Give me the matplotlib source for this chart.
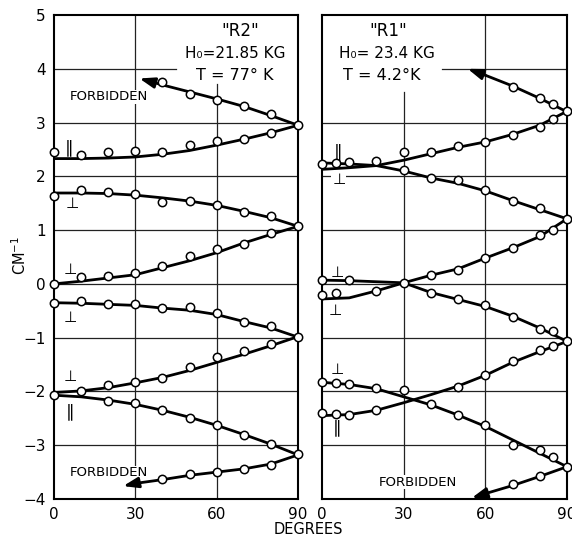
import matplotlib.pyplot as plt

# ---- "R2" panel (left) ----
deg10 = [0, 10, 20, 30, 40, 50, 60, 70, 80, 90]

# fitted curves
r2_fb_up_deg = [90, 80, 70, 60, 50, 40, 31.5]
r2_fb_up = [2.95, 3.13, 3.30, 3.44, 3.57, 3.70, 3.82]
r2_par_up = [2.33, 2.33, 2.34, 2.36, 2.41, 2.48, 2.58, 2.69, 2.81, 2.95]
r2_perp1 = [1.69, 1.69, 1.68, 1.65, 1.60, 1.54, 1.46, 1.35, 1.23, 1.07]
r2_perp2 = [0.0, 0.05, 0.11, 0.17, 0.30, 0.43, 0.58, 0.76, 0.92, 1.07]
r2_perp3 = [-0.35, -0.36, -0.38, -0.40, -0.45, -0.49, -0.57, -0.70, -0.82, -0.99]
r2_perp4 = [-2.02, -1.99, -1.93, -1.84, -1.74, -1.61, -1.46, -1.31, -1.15, -0.98]
r2_par_low = [-2.07, -2.10, -2.16, -2.24, -2.35, -2.48, -2.63, -2.80, -2.98, -3.18]
r2_fb_low_deg = [90, 80, 70, 60, 50, 40, 30, 25.5]
r2_fb_low = [-3.18, -3.35, -3.44, -3.50, -3.56, -3.64, -3.71, -3.76]

# measured points
r2_pts_fb_up_deg = [40, 50, 60, 70, 80]
r2_pts_fb_up = [3.75, 3.54, 3.42, 3.30, 3.15]
r2_pts_par_up = [2.46, 2.40, 2.45, 2.48, 2.45, 2.58, 2.65, 2.70, 2.81, 2.96]
r2_pts_perp1 = [1.64, 1.75, 1.70, 1.67, 1.52, 1.55, 1.47, 1.33, 1.26, 1.07]
r2_pts_perp2_deg = [0, 10, 20, 30, 40, 50, 60, 70, 80]
r2_pts_perp2 = [0.0, 0.12, 0.14, 0.20, 0.33, 0.51, 0.64, 0.75, 0.95]
r2_pts_perp3 = [-0.35, -0.32, -0.37, -0.38, -0.45, -0.43, -0.54, -0.71, -0.79, -0.99]
r2_pts_perp4_deg = [0, 10, 20, 30, 40, 50, 60, 70, 80]
r2_pts_perp4 = [-2.06, -2.00, -1.88, -1.82, -1.75, -1.54, -1.36, -1.24, -1.12]
r2_pts_par_low_deg = [20, 30, 40, 50, 60, 70, 80, 90]
r2_pts_par_low = [-2.18, -2.22, -2.35, -2.49, -2.63, -2.81, -2.97, -3.17]
r2_pts_fb_low_deg = [40, 50, 60, 70, 80]
r2_pts_fb_low = [-3.62, -3.53, -3.49, -3.45, -3.37]

# ---- "R1" panel (right) ----
r1_fb_up_deg = [90, 80, 70, 60, 53.5]
r1_fb_up = [3.20, 3.45, 3.68, 3.88, 4.00]
r1_par_up = [2.13, 2.16, 2.20, 2.30, 2.42, 2.54, 2.64, 2.78, 2.95, 3.21]
r1_perp_up = [2.25, 2.23, 2.20, 2.10, 1.97, 1.87, 1.73, 1.55, 1.38, 1.21]
r1_perp_a = [0.07, 0.06, 0.04, 0.02, -0.16, -0.29, -0.42, -0.60, -0.82, -1.07]
r1_perp_b = [-0.28, -0.26, -0.13, 0.02, 0.16, 0.28, 0.48, 0.67, 0.88, 1.21]
r1_perp_c = [-1.83, -1.87, -1.95, -2.10, -2.25, -2.44, -2.65, -2.90, -3.15, -3.40]
r1_par_c = [-2.45, -2.43, -2.35, -2.21, -2.06, -1.90, -1.70, -1.46, -1.26, -1.07]
r1_fb_low_deg = [90, 80, 70, 60, 55]
r1_fb_low = [-3.40, -3.58, -3.75, -3.90, -3.98]

r1_pts_fb_up_deg = [70, 80, 85, 90]
r1_pts_fb_up = [3.66, 3.46, 3.35, 3.21]
r1_pts_par_up_deg = [0, 5, 10, 20, 30, 40, 50, 60, 70, 80, 85]
r1_pts_par_up = [2.23, 2.24, 2.27, 2.28, 2.45, 2.46, 2.57, 2.64, 2.76, 2.92, 3.07]
r1_pts_perp_up_deg = [30, 40, 50, 60, 70, 80, 90]
r1_pts_perp_up = [2.11, 1.97, 1.93, 1.75, 1.54, 1.41, 1.21]
r1_pts_perp_a_deg = [0, 10, 30, 40, 50, 60, 70, 80, 85, 90]
r1_pts_perp_a = [0.08, 0.08, 0.02, -0.17, -0.29, -0.40, -0.61, -0.84, -0.88, -1.07]
r1_pts_perp_b_deg = [0, 5, 20, 40, 50, 60, 70, 80, 85]
r1_pts_perp_b = [-0.20, -0.17, -0.14, 0.16, 0.26, 0.48, 0.67, 0.90, 1.01]
r1_pts_perp_c_deg = [0, 5, 10, 20, 30, 40, 50, 60, 70, 80, 85, 90]
r1_pts_perp_c = [-1.83, -1.84, -1.86, -1.93, -1.98, -2.24, -2.44, -2.63, -3.00, -3.08, -3.22, -3.40]
r1_pts_par_c_deg = [0, 5, 10, 20, 50, 60, 70, 80, 85]
r1_pts_par_c = [-2.40, -2.42, -2.43, -2.34, -1.92, -1.69, -1.43, -1.23, -1.15]
r1_pts_fb_low_deg = [70, 80]
r1_pts_fb_low = [-3.73, -3.58]

x_ticks = [0, 30, 60, 90]
y_ticks = [-4, -3, -2, -1, 0, 1, 2, 3, 4, 5]

LW = 2.0
PAR = "\u2225"
PERP = "\u22a5"


def curve(ax, x, y):
    ax.plot(x, y, color="black", lw=LW, solid_capstyle="round", zorder=3)


def arrow_curve(ax, x, y):
    ax.plot(x[:-1], y[:-1], color="black", lw=LW, solid_capstyle="round", zorder=3)
    ax.annotate("", xy=(x[-1], y[-1]), xytext=(x[-2], y[-2]),
                arrowprops=dict(arrowstyle="-|>,head_length=1.0,head_width=0.35",
                                color="black", lw=LW, shrinkA=0, shrinkB=0,
                                mutation_scale=9), zorder=3)


def pts(ax, x, y):
    ax.plot(x, y, "o", ms=6.0, mfc="white", mec="black", mew=1.1,
            clip_on=False, zorder=4)


def frame(ax):
    ax.set_xlim(0, 90)
    ax.set_ylim(-4, 5)
    ax.set_xticks(x_ticks)
    ax.set_yticks(y_ticks)
    ax.tick_params(length=0, labelsize=11, pad=6)
    for s in ax.spines.values():
        s.set_linewidth(1.5)


fig = plt.figure(figsize=(5.72, 5.37), dpi=100)
axL = fig.add_axes([54 / 572, 38 / 537, 244 / 572, 484 / 537])
axR = fig.add_axes([322 / 572, 38 / 537, 245 / 572, 484 / 537])

gkw = dict(color="#222222", lw=0.9, zorder=1)
tk = dict(ha="center", va="center", fontsize=9.5,
          bbox=dict(fc="white", ec="none", pad=0.3), zorder=2)
sym = dict(ha="center", va="center", fontsize=11)

# left panel
frame(axL)
for yv in [-3, -2, -1, 0, 1, 2, 3]:
    axL.axhline(yv, **gkw)
axL.axhline(4, xmin=0, xmax=0.5, **gkw)
axL.axvline(30, **gkw)
axL.axvline(60, ymin=0, ymax=0.858, **gkw)

arrow_curve(axL, r2_fb_up_deg, r2_fb_up)
curve(axL, deg10, r2_par_up)
curve(axL, deg10, r2_perp1)
curve(axL, deg10, r2_perp2)
curve(axL, deg10, r2_perp3)
curve(axL, deg10, r2_perp4)
curve(axL, deg10, r2_par_low)
arrow_curve(axL, r2_fb_low_deg, r2_fb_low)

pts(axL, r2_pts_fb_up_deg, r2_pts_fb_up)
pts(axL, deg10, r2_pts_par_up)
pts(axL, deg10, r2_pts_perp1)
pts(axL, r2_pts_perp2_deg, r2_pts_perp2)
pts(axL, deg10, r2_pts_perp3)
pts(axL, r2_pts_perp4_deg, r2_pts_perp4)
pts(axL, r2_pts_par_low_deg, r2_pts_par_low)
pts(axL, r2_pts_fb_low_deg, r2_pts_fb_low)

axL.text(20.3, 3.48, "FORBIDDEN", **tk)
axL.text(20.3, -3.51, "FORBIDDEN", **tk)
axL.text(5.4, 2.55, PAR, ha="center", va="center", fontsize=12.5)
axL.text(6.6, 1.49, PERP, **sym)
axL.text(5.9, 0.27, PERP, **sym)
axL.text(5.9, -0.62, PERP, **sym)
axL.text(5.9, -1.72, PERP, **sym)
axL.text(5.9, -2.36, PAR, ha="center", va="center", fontsize=12.5)
axL.text(68.6, 4.70, "\"R2\"", ha="center", va="center", fontsize=12)
axL.text(66.8, 4.29, "H\u2080=21.85 KG", ha="center", va="center", fontsize=11)
axL.text(66.5, 3.87, "T = 77\u00b0 K", ha="center", va="center", fontsize=11.5)

# right panel
frame(axR)
axR.set_yticklabels([])
for yv in [-3, -2, -1, 0, 1, 2, 3]:
    axR.axhline(yv, **gkw)
axR.axhline(4, xmin=0.49, xmax=1, **gkw)
axR.axvline(30, ymin=0, ymax=0.841, **gkw)
axR.axvline(60, **gkw)

arrow_curve(axR, r1_fb_up_deg, r1_fb_up)
curve(axR, deg10, r1_par_up)
curve(axR, deg10, r1_perp_up)
curve(axR, deg10, r1_perp_a)
curve(axR, deg10, r1_perp_b)
curve(axR, deg10, r1_perp_c)
curve(axR, deg10, r1_par_c)
arrow_curve(axR, r1_fb_low_deg, r1_fb_low)

pts(axR, r1_pts_fb_up_deg, r1_pts_fb_up)
pts(axR, r1_pts_par_up_deg, r1_pts_par_up)
pts(axR, r1_pts_perp_up_deg, r1_pts_perp_up)
pts(axR, r1_pts_perp_a_deg, r1_pts_perp_a)
pts(axR, r1_pts_perp_b_deg, r1_pts_perp_b)
pts(axR, r1_pts_perp_c_deg, r1_pts_perp_c)
pts(axR, r1_pts_par_c_deg, r1_pts_par_c)
pts(axR, r1_pts_fb_low_deg, r1_pts_fb_low)

axR.text(35.1, -3.69, "FORBIDDEN", **tk)
axR.text(5.9, 2.47, PAR, ha="center", va="center", fontsize=12.5)
axR.text(6.2, 1.94, PERP, ha="center", va="center", fontsize=11,
         bbox=dict(fc="white", ec="none", pad=0.5))
axR.text(5.5, 0.22, PERP, **sym)
axR.text(4.8, -0.49, PERP, **sym)
axR.text(5.5, -1.59, PERP, **sym)
axR.text(5.5, -2.67, PAR, ha="center", va="center", fontsize=12.5)
axR.text(24.2, 4.70, "\"R1\"", ha="center", va="center", fontsize=12)
axR.text(24.0, 4.29, "H\u2080= 23.4 KG", ha="center", va="center", fontsize=11)
axR.text(22.0, 3.87, "T = 4.2\u00b0K", ha="center", va="center", fontsize=11.5)

fig.text(20 / 572, 1 - 255 / 537, "CM$^{-1}$", rotation=90,
         ha="center", va="center", fontsize=10.5)
fig.text(308 / 572, 1 - 529 / 537, "DEGREES", ha="center", va="center", fontsize=10.5)

fig.savefig("out.png", dpi=100)
